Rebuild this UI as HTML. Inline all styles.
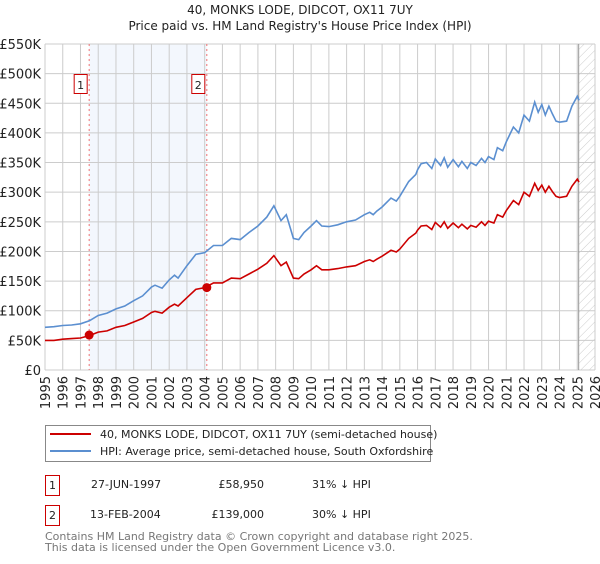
<!DOCTYPE html>
<html><head><meta charset="utf-8">
<style>
body{margin:0;background:#fff;font-family:"DejaVu Sans","Liberation Sans",sans-serif;}
svg text{font-family:"DejaVu Sans","Liberation Sans",sans-serif;}
</style></head>
<body>
<svg id="chart" width="600" height="560" xmlns="http://www.w3.org/2000/svg">
<defs>
<pattern id="hatch" width="6" height="6" patternUnits="userSpaceOnUse" patternTransform="rotate(45)">
<line x1="0" y1="0" x2="0" y2="6" stroke="#ccc" stroke-width="1"/>
</pattern>
</defs>
<text x="300" y="14" text-anchor="middle" font-size="12" fill="#222">40, MONKS LODE, DIDCOT, OX11 7UY</text>
<text x="300" y="30" text-anchor="middle" font-size="12" fill="#222">Price paid vs. HM Land Registry's House Price Index (HPI)</text>
<g id="plot"></g>
<g id="legend">
<rect x="45.5" y="425.5" width="385" height="36" fill="#fff" stroke="#888"/>
<line x1="50" y1="434" x2="91" y2="434" stroke="#cc0000" stroke-width="2"/>
<text x="100" y="438" font-size="11" fill="#222">40, MONKS LODE, DIDCOT, OX11 7UY (semi-detached house)</text>
<line x1="50" y1="451" x2="91" y2="451" stroke="#5b8fd0" stroke-width="2"/>
<text x="100" y="455" font-size="11" fill="#222">HPI: Average price, semi-detached house, South Oxfordshire</text>
</g>
<g font-size="11" fill="#222">
<rect x="45.5" y="475.5" width="14" height="20" fill="#fff" stroke="#cc0000"/>
<text x="52.5" y="489" text-anchor="middle">1</text>
<text x="91" y="488">27-JUN-1997</text>
<text x="264" y="488" text-anchor="end">£58,950</text>
<text x="312" y="488">31% ↓ HPI</text>
<rect x="45.5" y="505.5" width="14" height="20" fill="#fff" stroke="#cc0000"/>
<text x="52.5" y="519" text-anchor="middle">2</text>
<text x="90" y="518">13-FEB-2004</text>
<text x="264" y="518" text-anchor="end">£139,000</text>
<text x="312" y="518">30% ↓ HPI</text>
</g>
<text x="45" y="540" font-size="11" fill="#777">Contains HM Land Registry data © Crown copyright and database right 2025.</text>
<text x="45" y="551" font-size="11" fill="#777">This data is licensed under the Open Government Licence v3.0.</text>
</svg>
<script>
const yearsHpi=[1995,1995.5,1996,1996.5,1997,1997.5,1998,1998.5,1999,1999.5,2000,2000.5,2001,2001.2,2001.6,2002,2002.3,2002.5,2003,2003.5,2004,2004.5,2005,2005.5,2006,2006.5,2007,2007.5,2007.9,2008.3,2008.6,2009,2009.3,2009.6,2010,2010.3,2010.6,2011,2011.5,2012,2012.5,2013,2013.3,2013.5,2013.7,2014,2014.5,2014.8,2015,2015.5,2015.9,2016,2016.2,2016.5,2016.8,2017,2017.3,2017.5,2017.7,2018,2018.3,2018.5,2018.8,2019,2019.3,2019.6,2019.8,2020,2020.3,2020.5,2020.8,2021,2021.4,2021.7,2022,2022.3,2022.6,2022.8,2023,2023.2,2023.4,2023.6,2023.8,2024,2024.4,2024.7,2025,2025.1];
const hpiValues=[72,73,75,76,78,83,92,96,103,108,117,125,140,143,138,152,160,155,176,195,198,210,210,222,220,232,243,258,277,252,262,222,220,232,243,252,243,242,245,250,253,262,266,262,268,275,290,285,293,318,330,338,348,350,340,356,345,358,342,355,343,352,340,350,345,357,350,360,355,375,370,385,410,400,430,420,452,435,448,430,445,432,420,418,420,445,462,455];
const redValues=[50,50,52,53,54,58,64,66,72,75,81,87,97,99,96,106,111,108,122,136,139,147,147,155,154,162,170,180,193,176,182,155,154,162,169,176,169,169,171,174,176,183,186,183,187,192,202,199,204,222,231,236,243,244,237,249,241,250,239,248,240,246,238,244,241,250,244,251,248,262,258,269,286,279,300,293,315,303,312,300,310,301,293,291,293,310,322,317];
const saleYears=[1997.49,2004.12];
const salePrices=[58.95,139];
const saleLabels=["1","2"];
const yTicks=[0,50,100,150,200,250,300,350,400,450,500,550];
const yTickLabels=["£0","£50K","£100K","£150K","£200K","£250K","£300K","£350K","£400K","£450K","£500K","£550K"];
const xTicks=[1995,1996,1997,1998,1999,2000,2001,2002,2003,2004,2005,2006,2007,2008,2009,2010,2011,2012,2013,2014,2015,2016,2017,2018,2019,2020,2021,2022,2023,2024,2025,2026];
const forecastStart=2025.08;

const X0=45,X1=595,Y0=370,Y1=44;
const xs=y=>X0+(y-1995)/31*(X1-X0);
const ys=v=>Y0-v/550*(Y0-Y1);
const NS="http://www.w3.org/2000/svg";
const plot=document.getElementById('plot');
function mk(tag,attrs,parent){const e=document.createElementNS(NS,tag);for(const k in attrs)e.setAttribute(k,attrs[k]);(parent||plot).appendChild(e);return e;}

let e=mk('rect',{x:xs(saleYears[0]),y:Y1,width:xs(saleYears[1])-xs(saleYears[0]),height:Y0-Y1,fill:'#eef3fc',opacity:0.7});


e=mk('rect',{x:xs(forecastStart),y:Y1,width:X1-xs(forecastStart),height:Y0-Y1,fill:'url(#hatch)'});


yTicks.forEach((t,i)=>{
  let g=mk('line',{x1:X0,x2:X1,y1:ys(t),y2:ys(t),stroke:'#ccc','stroke-width':1});
  
  
  let tx=mk('text',{x:X0-4,y:ys(t)+5,'text-anchor':'end','font-size':13,fill:'#222'});
  tx.textContent=yTickLabels[i];
  
  
});
xTicks.forEach(t=>{
  let g=mk('line',{x1:xs(t),x2:xs(t),y1:Y1,y2:Y0,stroke:'#ccc','stroke-width':1});
  
  
  let tx=mk('text',{x:0,y:0,'font-size':13,fill:'#222','text-anchor':'end',transform:`translate(${xs(t)+5},${Y0+6}) rotate(-90)`});
  tx.textContent=t;
  
  
});
e=mk('line',{x1:xs(forecastStart),x2:xs(forecastStart),y1:Y1,y2:Y0,stroke:'#999','stroke-width':1});


saleYears.forEach((y,i)=>{
  let l=mk('line',{x1:xs(y),x2:xs(y),y1:Y1,y2:Y0,stroke:'#f07070','stroke-width':1,'stroke-dasharray':'2,3'});
  
  
  let r=mk('rect',{x:xs(y)-15,y:74.5,width:13,height:19,fill:'#fff',stroke:'#cc0000'});
  
  
  let t=mk('text',{x:xs(y)-8.5,y:89,'text-anchor':'middle','font-size':11,fill:'#222'});
  t.textContent=saleLabels[i];
  
  
});
function path(xa,va){return xa.map((y,i)=>(i?'L':'M')+xs(y).toFixed(1)+','+ys(va[i]).toFixed(1)).join('');}
e=mk('path',{d:path(yearsHpi,hpiValues),fill:'none',stroke:'#5b8fd0','stroke-width':1.6});


e=mk('path',{d:path(yearsHpi,redValues),fill:'none',stroke:'#cc0000','stroke-width':1.6});


saleYears.forEach((y,i)=>{
  let c=mk('circle',{cx:xs(y),cy:ys(salePrices[i]),r:4.5,fill:'#cc0000'});
  
  
});
</script>
</body></html>
